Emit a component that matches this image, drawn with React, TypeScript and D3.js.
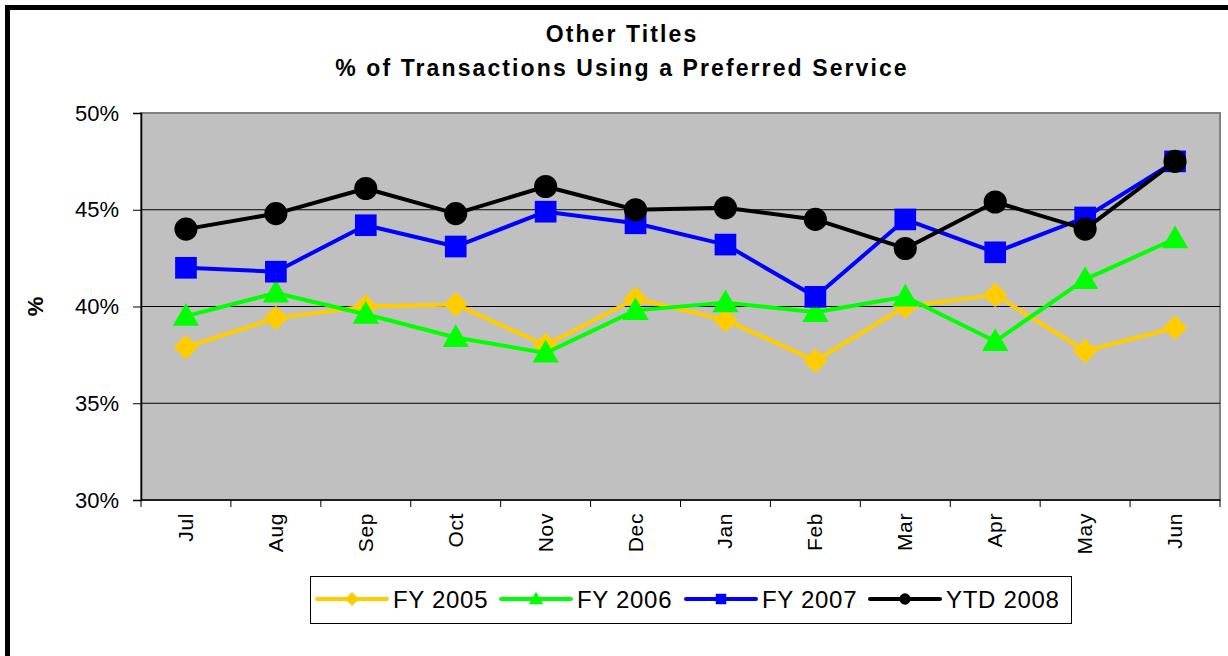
import * as d3 from "d3";
import React, { useEffect, useRef } from "react";

const months = ["Jul", "Aug", "Sep", "Oct", "Nov", "Dec", "Jan", "Feb", "Mar", "Apr", "May", "Jun"];

const fy2005 = [37.9, 39.4, 40.0, 40.1, 38.0, 40.4, 39.3, 37.2, 40.0, 40.6, 37.7, 38.9];
const fy2006 = [39.5, 40.7, 39.6, 38.4, 37.6, 39.8, 40.2, 39.7, 40.5, 38.2, 41.4, 43.5];
const fy2007 = [42.0, 41.8, 44.2, 43.1, 44.9, 44.3, 43.2, 40.5, 44.5, 42.8, 44.6, 47.5];
const ytd2008 = [44.0, 44.8, 46.1, 44.8, 46.2, 45.0, 45.1, 44.5, 43.0, 45.4, 44.0, 47.5];

const yTicks = [30, 35, 40, 45, 50];

const seriesList = [
    { name: "FY 2005", values: fy2005, color: "#FFCC00", marker: "diamond" },
    { name: "FY 2006", values: fy2006, color: "#00FF00", marker: "triangle" },
    { name: "FY 2007", values: fy2007, color: "#0000FF", marker: "square" },
    { name: "YTD 2008", values: ytd2008, color: "#000000", marker: "circle" },
];

const FONT = "'Liberation Sans', Arial, sans-serif";

const plot = { left: 141, right: 1220, top: 113, bottom: 500 };

// square diamond (equal width and height), d3's own is too narrow
const squareDiamond: d3.SymbolType = {
    draw(context, size) {
        const r = Math.sqrt(size / 2);
        context.moveTo(0, -r);
        context.lineTo(r, 0);
        context.lineTo(0, r);
        context.lineTo(-r, 0);
        context.closePath();
    },
};

function symbolFor(marker: string) {
    if (marker === "diamond") return squareDiamond;
    if (marker === "triangle") return d3.symbolTriangle;
    if (marker === "square") return d3.symbolSquare;
    return d3.symbolCircle;
}

function markerSize(marker: string, big: boolean) {
    // area in px^2
    if (marker === "diamond") return big ? 300 : 100;
    if (marker === "triangle") return big ? 300 : 90;
    if (marker === "square") return big ? 470 : 110;
    return big ? 420 : 100;
}

const App: React.FC = () => {
    const svgRef = useRef<SVGSVGElement>(null);

    useEffect(() => {
        if (!svgRef.current) return;
        const svg = d3.select(svgRef.current);
        svg.selectAll("*").remove();

        const x = d3.scaleBand<string>().domain(months).range([plot.left, plot.right]);
        const y = d3.scaleLinear().domain([30, 50]).range([plot.bottom, plot.top]);

        // outer frame
        svg.append("rect")
            .attr("x", 7.5).attr("y", 7.5)
            .attr("width", 1240).attr("height", 680)
            .attr("fill", "#fff").attr("stroke", "#000").attr("stroke-width", 5);

        // title
        const title = svg.append("text")
            .attr("text-anchor", "middle")
            .attr("font-family", FONT)
            .attr("font-weight", "bold")
            .attr("font-size", 23)
            .attr("letter-spacing", 2.1);
        title.append("tspan").attr("x", 622).attr("y", 42).text("Other Titles");
        title.append("tspan").attr("x", 622).attr("y", 76).text("% of Transactions Using a Preferred Service");

        // plot background
        svg.append("rect")
            .attr("x", plot.left).attr("y", plot.top)
            .attr("width", plot.right - plot.left).attr("height", plot.bottom - plot.top)
            .attr("fill", "#C0C0C0")
            .attr("stroke", "#808080").attr("stroke-width", 2);

        // gridlines
        svg.append("g")
            .selectAll("line")
            .data(yTicks.filter((t) => t > 30 && t < 50))
            .join("line")
            .attr("x1", plot.left).attr("x2", plot.right)
            .attr("y1", (d) => y(d)).attr("y2", (d) => y(d))
            .attr("stroke", "#000").attr("stroke-width", 1);

        // y axis
        const yAxis = svg.append("g")
            .attr("transform", `translate(${plot.left},0)`)
            .call(d3.axisLeft(y).tickValues(yTicks).tickFormat((d) => `${d}%`).tickSize(8).tickPadding(14));
        yAxis.select(".domain").attr("stroke", "#000").attr("stroke-width", 1.5);
        yAxis.selectAll("text")
            .attr("font-family", FONT).attr("font-size", 22).attr("fill", "#000");

        // x axis
        const xAxis = svg.append("g").attr("transform", `translate(0,${plot.bottom})`);
        xAxis.append("line")
            .attr("x1", plot.left).attr("x2", plot.right)
            .attr("stroke", "#000").attr("stroke-width", 1.5);
        const bounds = months.map((m) => x(m) as number).concat([plot.right]);
        xAxis.selectAll("line.tick")
            .data(bounds)
            .join("line")
            .attr("class", "tick")
            .attr("x1", (d) => d).attr("x2", (d) => d)
            .attr("y1", 0).attr("y2", 7)
            .attr("stroke", "#000");
        xAxis.selectAll("text")
            .data(months)
            .join("text")
            .attr("transform", (d) => `translate(${(x(d) as number) + x.bandwidth() / 2 + 7},13) rotate(-90)`)
            .attr("text-anchor", "end")
            .attr("font-family", FONT)
            .attr("font-size", 21)
            .attr("letter-spacing", 0.6)
            .text((d) => d);

        // y axis title
        svg.append("text")
            .attr("transform", `translate(43,${(plot.top + plot.bottom) / 2}) rotate(-90)`)
            .attr("text-anchor", "middle")
            .attr("font-family", FONT)
            .attr("font-weight", "bold")
            .attr("font-size", 22)
            .text("%");

        // series
        const cx = (i: number) => (x(months[i]) as number) + x.bandwidth() / 2;
        const line = d3.line<number>().x((_, i) => cx(i)).y((d) => y(d));

        seriesList.forEach((s) => {
            const g = svg.append("g");
            g.append("path")
                .datum(s.values)
                .attr("fill", "none")
                .attr("stroke", s.color)
                .attr("stroke-width", 4)
                .attr("stroke-linejoin", "round")
                .attr("d", line);
            const sym = d3.symbol().type(symbolFor(s.marker)).size(markerSize(s.marker, true));
            g.selectAll("path.pt")
                .data(s.values)
                .join("path")
                .attr("class", "pt")
                .attr("transform", (d, i) => `translate(${cx(i)},${y(d) + (s.marker === "triangle" ? 2 : 0)})`)
                .attr("d", sym)
                .attr("fill", s.color);
        });

        // legend
        const legend = svg.append("g");
        legend.append("rect")
            .attr("x", 310.5).attr("y", 576.5)
            .attr("width", 761).attr("height", 47)
            .attr("fill", "#fff").attr("stroke", "#000").attr("stroke-width", 1);
        const legendX = [317, 501, 686, 870];
        seriesList.forEach((s, i) => {
            const lx = legendX[i];
            const item = legend.append("g").attr("transform", `translate(${lx},599)`);
            item.append("line")
                .attr("x1", 0).attr("x2", 70)
                .attr("stroke", s.color).attr("stroke-width", 4).attr("stroke-linecap", "round");
            item.append("path")
                .attr("transform", `translate(35,${s.marker === "triangle" ? 1 : 0})`)
                .attr("d", d3.symbol().type(symbolFor(s.marker)).size(markerSize(s.marker, false))())
                .attr("fill", s.color);
            item.append("text")
                .attr("x", 76).attr("y", 9)
                .attr("font-family", FONT)
                .attr("font-size", 24)
                .attr("letter-spacing", 0.7)
                .text(s.name);
        });
    }, []);

    return (
        <svg
            ref={svgRef}
            width={1228}
            height={656}
            style={{ position: "absolute", left: 0, top: 0, display: "block" }}
        />
    );
};

export default App;
